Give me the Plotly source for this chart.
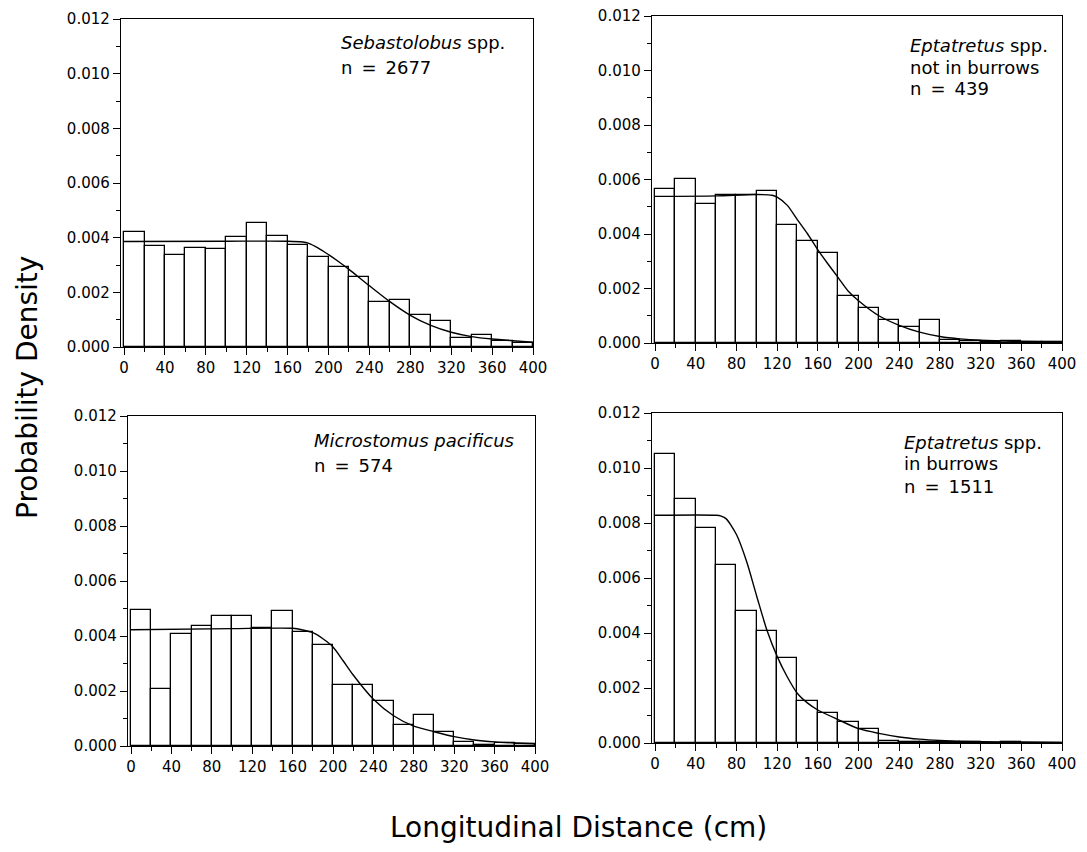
import plotly.graph_objects as go
from plotly.subplots import make_subplots

# ---------------- data ----------------
bin_left = list(range(0, 400, 20))  # 20 cm bins from 0 to 400
bin_width = 20

seb_density = [0.00419, 0.00370, 0.00338, 0.00363, 0.00360, 0.00402, 0.00452, 0.00407, 0.00375, 0.00331,
               0.00293, 0.00256, 0.00165, 0.00171, 0.00116, 0.00094, 0.00034, 0.00043, 0.00021, 0.00016]
ept_free_density = [0.00566, 0.00601, 0.00510, 0.00542, 0.00544, 0.00559, 0.00432, 0.00375, 0.00330, 0.00174,
                    0.00127, 0.00083, 0.00059, 0.00083, 0.00012, 0.00006, 0.00004, 0.00008, 0.00005, 0.00005]
micro_density = [0.00496, 0.00207, 0.00408, 0.00436, 0.00472, 0.00473, 0.00429, 0.00491, 0.00415, 0.00368,
                 0.00221, 0.00223, 0.00162, 0.00078, 0.00113, 0.00051, 0.00015, 0.00005, 0.00012, 0.00008]
burrow_density = [0.01051, 0.00888, 0.00782, 0.00646, 0.00479, 0.00408, 0.00308, 0.00152, 0.00109, 0.00075,
                  0.00050, 0.00006, 0.00004, 0.00003, 0.00002, 0.00002, 0.00001, 0.00003, 0.00001, 0.00001]

# fitted curves
seb_curve_x = [0, 100, 160, 175, 180, 190, 200, 210, 220, 240, 260, 280, 300, 320, 340, 360, 380, 400]
seb_curve_y = [0.00386, 0.00387, 0.00387, 0.00384, 0.00380, 0.00362, 0.00338, 0.00312, 0.00284, 0.00224,
               0.00166, 0.00116, 0.00079, 0.00054, 0.00038, 0.00029, 0.00023, 0.00018]
ept_free_curve_x = [0, 60, 100, 115, 120, 130, 140, 150, 160, 170, 180, 190, 200, 220, 240, 260, 280, 300, 320, 360, 400]
ept_free_curve_y = [0.00538, 0.00540, 0.00545, 0.00542, 0.00535, 0.00505, 0.00452, 0.00400, 0.00342, 0.00290,
                    0.00240, 0.00190, 0.00155, 0.00100, 0.00065, 0.00040, 0.00024, 0.00015, 0.00010, 0.00006, 0.00004]
micro_curve_x = [0, 100, 160, 170, 180, 190, 200, 210, 220, 240, 260, 280, 300, 320, 340, 360, 380, 400]
micro_curve_y = [0.00423, 0.00427, 0.00428, 0.00422, 0.00412, 0.00390, 0.00360, 0.00310, 0.00258, 0.00170,
                 0.00110, 0.00072, 0.00052, 0.00034, 0.00022, 0.00015, 0.00011, 0.00008]
burrow_curve_x = [0, 60, 65, 70, 80, 90, 100, 110, 120, 130, 140, 150, 160, 180, 200, 220, 240, 260, 280, 300, 340, 400]
burrow_curve_y = [0.00828, 0.00828, 0.00825, 0.00815, 0.00758, 0.00660, 0.00533, 0.00410, 0.00315, 0.00240,
                  0.00180, 0.00145, 0.00120, 0.00085, 0.00052, 0.00035, 0.00022, 0.00014, 0.00009, 0.00006,
                  0.00004, 0.00002]

panel_labels = [
    ["<i>Sebastolobus</i> spp.", "n\u2002=\u20022677"],
    ["<i>Eptatretus</i> spp.", "not in burrows", "n\u2002=\u2002439"],
    ["<i>Microstomus pacificus</i>", "n\u2002=\u2002574"],
    ["<i>Eptatretus</i> spp.", "in burrows", "n\u2002=\u20021511"],
]

x_ticks = list(range(0, 401, 40))
y_ticks = [0.000, 0.002, 0.004, 0.006, 0.008, 0.010, 0.012]

y_title = "Probability Density"
x_title = "Longitudinal Distance (cm)"

# ---------------- layout geometry (page pixels) ----------------
PAGE_W, PAGE_H = 1087, 852
OFF = 8  # default body margin of the html page
W, H = PAGE_W - 2 * OFF, PAGE_H - 2 * OFF
FONT = "DejaVu Sans"


def px(x):
    return (x - OFF) / W


def py(y):
    return 1 - (y - OFF) / H


# (left, right, top, bottom) of each plot frame in page pixels
frames = [
    (121, 533, 19, 347),
    (652, 1062, 16, 343),
    (128, 535, 416, 746),
    (652, 1062, 413, 743),
]
# label positions: (left x, [line centre y...])
label_pos = [
    (339, [43, 67]),
    (908, [45, 67, 89]),
    (312, [441, 465]),
    (902, [442, 464, 486]),
]

densities = [seb_density, ept_free_density, micro_density, burrow_density]
curves = [(seb_curve_x, seb_curve_y), (ept_free_curve_x, ept_free_curve_y),
          (micro_curve_x, micro_curve_y), (burrow_curve_x, burrow_curve_y)]

fig = make_subplots(rows=2, cols=2)
positions = [(1, 1), (1, 2), (2, 1), (2, 2)]

centers = [b + bin_width / 2 for b in bin_left]

for i, (r, c) in enumerate(positions):
    fig.add_trace(go.Bar(x=centers, y=densities[i], width=bin_width,
                         marker=dict(color="white", line=dict(color="black", width=1.3)),
                         showlegend=False, hoverinfo="x+y"), row=r, col=c)
    cx, cy = curves[i]
    fig.add_trace(go.Scatter(x=cx, y=cy, mode="lines",
                             line=dict(color="black", width=1.4, shape="spline", smoothing=0.7),
                             showlegend=False), row=r, col=c)

axis_common = dict(showline=True, linecolor="black", linewidth=1.4, mirror=True,
                   showgrid=False, zeroline=False, ticks="outside", tickcolor="black",
                   tickwidth=1.3, ticklen=7, ticklabeloverflow="allow",
                   tickfont=dict(family=FONT, size=15, color="black"))

for i, (r, c) in enumerate(positions):
    l, rgt, t, b = frames[i]
    fig.update_xaxes(row=r, col=c, range=[-3, 400], tickmode="array", tickvals=x_ticks,
                     ticktext=[str(v) for v in x_ticks],
                     domain=[px(l), px(rgt)],
                     minor=dict(dtick=20, tick0=0, ticks="outside", ticklen=4, tickcolor="black", tickwidth=1),
                     **axis_common)
    fig.update_yaxes(row=r, col=c, range=[0, 0.012], tickmode="array", tickvals=y_ticks,
                     ticktext=[f"{v:.3f}" for v in y_ticks],
                     domain=[py(b), py(t)],
                     minor=dict(dtick=0.001, tick0=0, ticks="outside", ticklen=4, tickcolor="black", tickwidth=1),
                     **axis_common)

annotations = []
for i, (lx, ys) in enumerate(label_pos):
    for line, yy in zip(panel_labels[i], ys):
        annotations.append(dict(text=line, x=px(lx), y=py(yy), xref="paper", yref="paper",
                                xanchor="left", yanchor="middle", showarrow=False,
                                font=dict(family=FONT, size=18, color="black")))

annotations.append(dict(text=y_title, x=px(27), y=py(388), xref="paper", yref="paper",
                        xanchor="center", yanchor="middle", textangle=-90, showarrow=False,
                        font=dict(family=FONT, size=28, color="black")))
annotations.append(dict(text=x_title, x=px(578), y=py(827), xref="paper", yref="paper",
                        xanchor="center", yanchor="middle", showarrow=False,
                        font=dict(family=FONT, size=28, color="black")))

fig.update_layout(width=W, height=H, margin=dict(l=0, r=0, t=0, b=0, autoexpand=False),
                  plot_bgcolor="white", paper_bgcolor="white", bargap=0,
                  annotations=annotations, font=dict(family=FONT, color="black"))

fig.write_html("out.html")
